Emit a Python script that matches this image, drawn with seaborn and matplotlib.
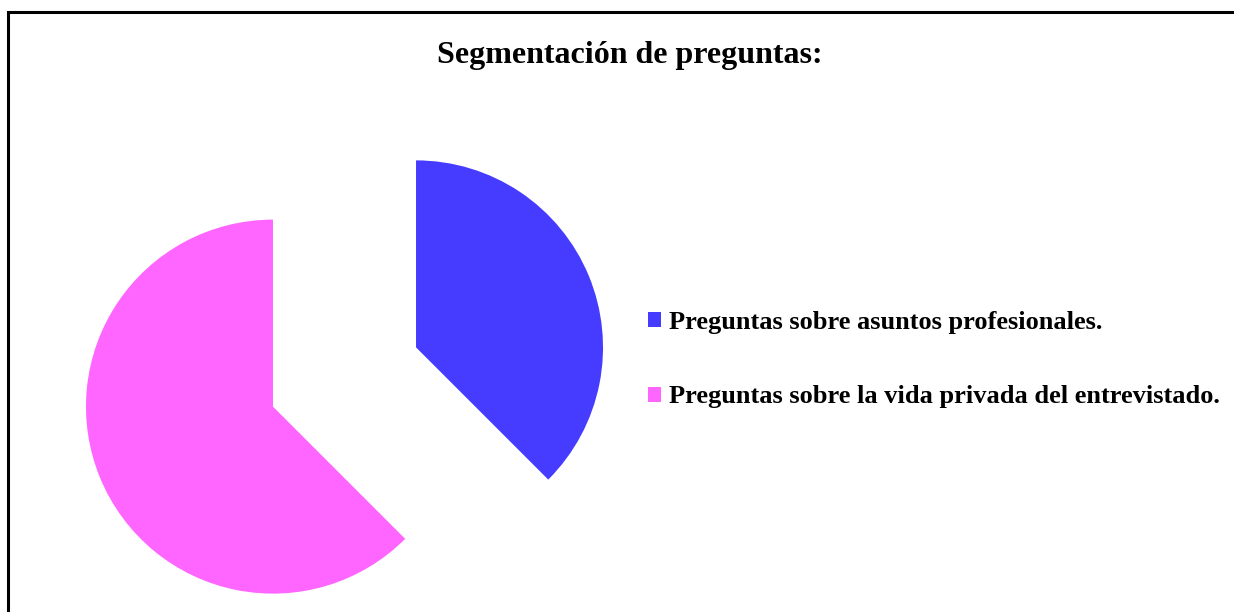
import matplotlib
matplotlib.use("Agg")
import matplotlib.pyplot as plt
import matplotlib.patches as mpatches
import seaborn as sns

# data
labels = ["Preguntas sobre asuntos profesionales.",
          "Preguntas sobre la vida privada del entrevistado."]
values = [3, 5]
colors = ["#463cff", "#ff66ff"]
title = "Segmentación de preguntas:"

sns.set_theme(style="white")
plt.rcParams['font.family'] = ['Liberation Serif', 'DejaVu Serif']
plt.rcParams['text.color'] = 'black'

W, H = 1234, 612
fig = plt.figure(figsize=(W / 100, H / 100), dpi=100)
fig.patch.set_facecolor("white")

# pie axes: radius 187 px, common centre at (344.5, 377) px from top-left
R = 187.0
cx, cy = 344.5, H - 377
half = 400
ax = fig.add_axes([(cx - half) / W, (cy - half) / H, 2 * half / W, 2 * half / H])
ax.pie(values, colors=colors, startangle=90, counterclock=False,
       explode=[0.414, 0.414], wedgeprops=dict(linewidth=0))
ax.set_xlim(-half / R, half / R)
ax.set_ylim(-half / R, half / R)
ax.set_aspect("equal")
ax.axis("off")

fig.text(630 / W, 1 - 56 / H, title, ha="center", va="center",
         fontsize=23, fontweight="bold", color="black")

handles = [mpatches.Patch(facecolor=c, edgecolor="none") for c in colors]
leg = fig.legend(handles, labels, loc="upper left",
                 bbox_to_anchor=(648 / W, 1 - 311 / H),
                 frameon=False, fontsize=19, handlelength=0.5, handleheight=0.5,
                 handletextpad=0.3, labelspacing=1.95, borderaxespad=0, borderpad=0)
for t in leg.get_texts():
    t.set_fontweight("bold")
    t.set_color("black")

# outer frame (right and bottom edges fall outside the picture)
frame = mpatches.Rectangle((7.5 / W, -0.1), 1.2, (H - 12) / H + 0.1,
                           transform=fig.transFigure, fill=False,
                           edgecolor="black", linewidth=2.2)
fig.patches.append(frame)

fig.savefig("out.png", dpi=100)
